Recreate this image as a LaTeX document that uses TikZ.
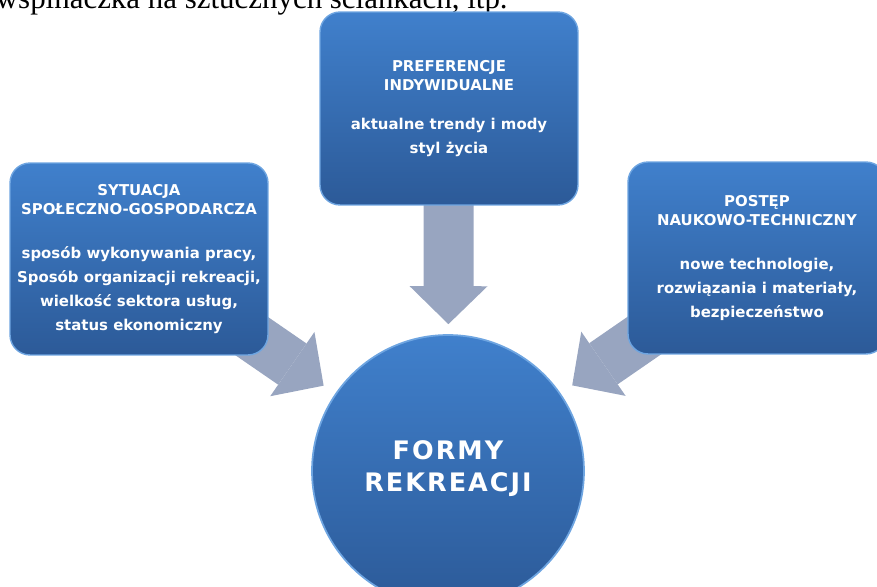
\documentclass[tikz,border=0pt]{standalone}
\usepackage{fontspec}
\setmainfont{Liberation Serif}
\newfontfamily\boxfont{DejaVu Sans}
\newfontfamily\hubfont{DejaVu Sans}[LetterSpace=8]
\usetikzlibrary{arrows.meta,backgrounds}

\definecolor{boxtop}{RGB}{64,128,204}
\definecolor{boxbot}{RGB}{44,90,152}
\definecolor{boxrim}{RGB}{110,165,225}
\definecolor{arrgray}{RGB}{152,165,192}

\begin{document}
\begin{tikzpicture}[x=0.02cm,y=-0.02cm,
	infobox/.style={rounded corners=0.4cm, top color=boxtop, bottom color=boxbot,
		draw=boxrim, line width=0.8pt, minimum width=5.16cm, minimum height=3.84cm,
		text=white, align=center, inner sep=0pt,
		font=\boxfont\bfseries\fontsize{8.5}{10.8}\selectfont},
	hubcircle/.style={circle, top color=boxtop, bottom color=boxbot,
		draw=boxrim, line width=1pt, minimum size=5.44cm,
		text=white, align=center, text depth=0.2cm,
		font=\hubfont\bfseries\fontsize{14.5}{18.7}\selectfont},
	blockarrow/.style={arrgray, line width=1cm,
		-{Triangle[width=1.56cm, length=0.76cm, line width=0pt]}}]
	\useasboundingbox (0,0) rectangle (877,587);
	\clip (0,0) rectangle (877,587);
	% cut-off line of the page above
	\node[anchor=base east, inner sep=0pt, font=\fontsize{17.6}{20}\selectfont] (caption) at (508,9) {wspinaczka na sztucznych ściankach, itp.};
	\node[infobox, minimum height=3.86cm] (pref) at (449,108.5) {PREFERENCJE\\INDYWIDUALNE\\[11.9pt]aktualne trendy i mody\\[2.8pt]styl życia};
	\node[infobox] (sytuacja) at (139,259) {SYTUACJA\\SPOŁECZNO-GOSPODARCZA\\[14.7pt]sposób wykonywania pracy,\\[2.8pt]Sposób organizacji rekreacji,\\[2.8pt]wielkość sektora usług,\\[2.8pt]status ekonomiczny};
	\node[infobox] (postep) at (757,258) {POSTĘP\\NAUKOWO-TECHNICZNY\\[14.7pt]nowe technologie,\\[2.8pt]rozwiązania i materiały,\\[2.8pt]bezpieczeństwo};
	\node[hubcircle] (formy) at (448,471) {FORMY\\REKREACJI};
	\begin{scope}[on background layer]
		\draw[blockarrow, shorten <=-0.3cm, shorten >=0.2cm] (pref) -- (formy);
		\draw[blockarrow, shorten <=-1cm, shorten >=0.28cm] (sytuacja) -- (formy);
		\draw[blockarrow, shorten <=-1cm, shorten >=0.28cm] (postep) -- (formy);
	\end{scope}
\end{tikzpicture}
\end{document}
